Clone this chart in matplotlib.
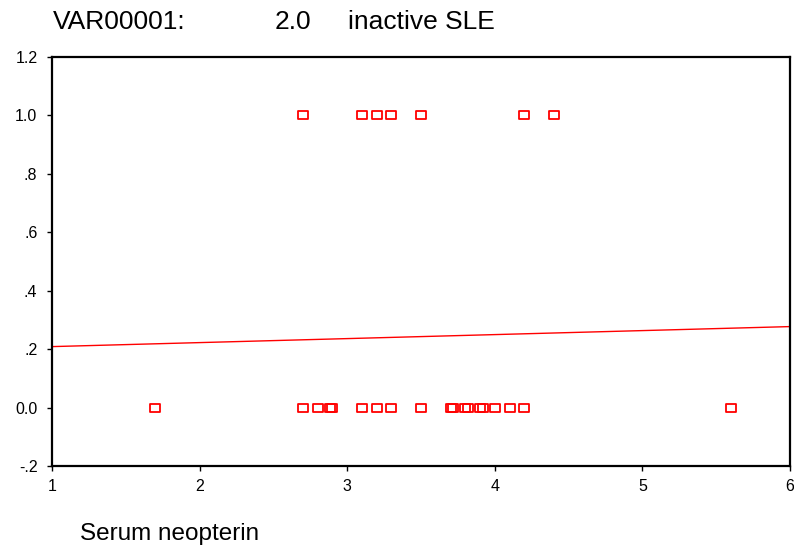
import matplotlib
matplotlib.use("Agg")
import matplotlib.pyplot as plt
import numpy as np
from matplotlib.path import Path

plt.rcParams['font.family'] = ['Liberation Sans', 'DejaVu Sans']

# Data
x_one = [2.7, 3.1, 3.2, 3.3, 3.5, 4.2, 4.4]
x_zero = [1.7, 2.7, 2.8, 2.88, 2.9, 3.1, 3.2, 3.3, 3.5, 3.7, 3.72,
          3.8, 3.82, 3.9, 3.92, 4.0, 4.1, 4.2, 5.6]
fit_intercept = 0.195
fit_slope = 0.0137
x_ticks = [1, 2, 3, 4, 5, 6]
y_ticks = [-0.2, 0.0, 0.2, 0.4, 0.6, 0.8, 1.0, 1.2]
y_tick_labels = ['-.2', '0.0', '.2', '.4', '.6', '.8', '1.0', '1.2']
title_parts = ["VAR00001:", "2.0", "inactive SLE"]
xlabel = "Serum neopterin"

fig = plt.figure(figsize=(7.94, 5.5), dpi=100)
ax = fig.add_axes([0.0655, 0.1527, 0.9295, 0.7437])

rect = Path([(-1.3, -1), (1.3, -1), (1.3, 1), (-1.3, 1), (-1.3, -1)],
            [Path.MOVETO, Path.LINETO, Path.LINETO, Path.LINETO, Path.CLOSEPOLY])

ax.plot(x_one, [1.0] * len(x_one), linestyle='none', marker=rect, markersize=7,
        markerfacecolor='none', markeredgecolor='#ff0000', markeredgewidth=1.3)
ax.plot(x_zero, [0.0] * len(x_zero), linestyle='none', marker=rect, markersize=7,
        markerfacecolor='none', markeredgecolor='#ff0000', markeredgewidth=1.3)

xl = np.array([1.0, 6.0])
ax.plot(xl, fit_intercept + fit_slope * xl, color='#ff0000', lw=1.0)

ax.set_xlim(1, 6)
ax.set_ylim(-0.2, 1.2)
ax.set_xticks(x_ticks)
ax.set_xticklabels([str(t) for t in x_ticks])
ax.set_yticks(y_ticks)
ax.set_yticklabels(y_tick_labels)
for s in ax.spines.values():
    s.set_linewidth(1.6)
    s.set_color('black')
ax.tick_params(direction='out', length=3.5, width=1.0, labelsize=11.5)
ax.tick_params(axis='y', pad=7)
ax.tick_params(axis='x', pad=6)

# title pieces positioned as in the reference
for txt, px in zip(title_parts, [53, 275, 348]):
    fig.text(px / 794, 1 - 22 / 550, txt, fontsize=19, ha='left', va='center')
fig.text(80 / 794, 1 - 534 / 550, xlabel, fontsize=17.5, ha='left', va='center')

fig.savefig('out.png', dpi=100)
